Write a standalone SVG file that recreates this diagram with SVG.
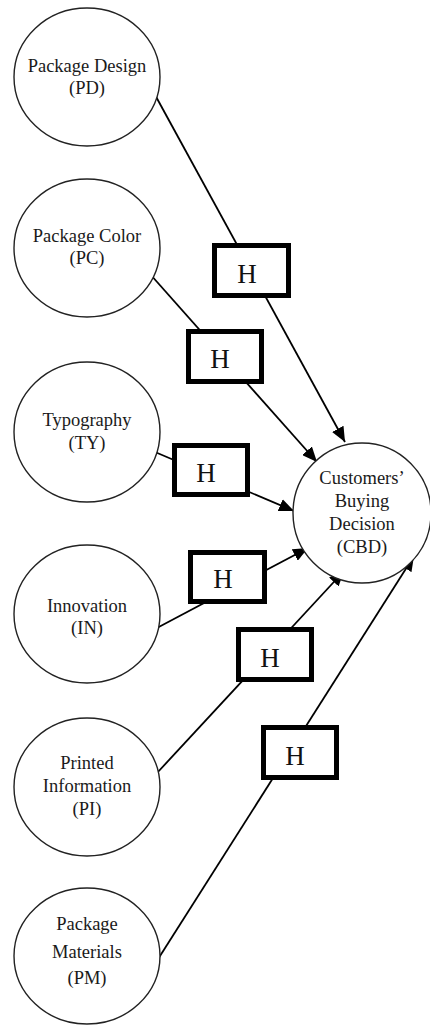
<svg xmlns="http://www.w3.org/2000/svg" width="430" height="1025" viewBox="0 0 430 1025">
<style>
.node ellipse{fill:#fff;stroke:#222;stroke-width:1.4}
.lbl{font-family:"Liberation Serif","Times New Roman",serif;font-size:18.5px;fill:#1a1a1a;text-anchor:middle}
.conn line{stroke:#000;stroke-width:1.8;fill:none}
.hbox rect{fill:#fff;stroke:#000;stroke-width:5}
.h{font-family:"Liberation Serif","Times New Roman",serif;font-size:27px;fill:#111;text-anchor:middle}
</style>
<defs>
<marker id="arr" markerUnits="userSpaceOnUse" markerWidth="16" markerHeight="13" refX="15" refY="6.5" orient="auto">
<path d="M0,0 L15,6.5 L0,13 z" fill="#000"/>
</marker>
</defs>
<g id="connectors" class="conn">
<line x1="154" y1="93" x2="345" y2="442" marker-end="url(#arr)"/>
<line x1="150" y1="274" x2="317" y2="462" marker-end="url(#arr)"/>
<line x1="155" y1="452" x2="294" y2="511" marker-end="url(#arr)"/>
<line x1="155" y1="629" x2="308" y2="548" marker-end="url(#arr)"/>
<line x1="157" y1="773" x2="344" y2="571" marker-end="url(#arr)"/>
<line x1="153" y1="967" x2="414" y2="556" marker-end="url(#arr)"/>
</g>
<g id="h1" class="hbox"><rect x="214.5" y="245.5" width="74" height="50"/><text class="h" x="247" y="283">H</text></g>
<g id="h2" class="hbox"><rect x="188.5" y="331.5" width="73" height="50"/><text class="h" x="220" y="368">H</text></g>
<g id="h3" class="hbox"><rect x="174.5" y="445.5" width="73" height="49"/><text class="h" x="206" y="482">H</text></g>
<g id="h4" class="hbox"><rect x="190.5" y="552.5" width="74" height="49"/><text class="h" x="223" y="588">H</text></g>
<g id="h5" class="hbox"><rect x="238.5" y="629.5" width="73" height="50"/><text class="h" x="270" y="667">H</text></g>
<g id="h6" class="hbox"><rect x="263.5" y="727.5" width="73" height="50"/><text class="h" x="295" y="765">H</text></g>
<g id="pd" class="node"><ellipse cx="87" cy="77" rx="73" ry="69"/><text class="lbl" x="87" y="72">Package Design</text><text class="lbl" x="87" y="94">(PD)</text></g>
<g id="pc" class="node"><ellipse cx="87" cy="248" rx="73" ry="69"/><text class="lbl" x="87" y="242">Package Color</text><text class="lbl" x="87" y="264">(PC)</text></g>
<g id="ty" class="node"><ellipse cx="87" cy="432" rx="73" ry="70"/><text class="lbl" x="87" y="426">Typography</text><text class="lbl" x="87" y="449">(TY)</text></g>
<g id="in" class="node"><ellipse cx="87" cy="614" rx="73" ry="69"/><text class="lbl" x="87" y="612">Innovation</text><text class="lbl" x="87" y="634">(IN)</text></g>
<g id="pi" class="node"><ellipse cx="87" cy="787" rx="73" ry="69"/><text class="lbl" x="87" y="769">Printed</text><text class="lbl" x="87" y="792">Information</text><text class="lbl" x="87" y="815">(PI)</text></g>
<g id="pm" class="node"><ellipse cx="87" cy="956" rx="73" ry="68"/><text class="lbl" x="87" y="930">Package</text><text class="lbl" x="87" y="958">Materials</text><text class="lbl" x="87" y="984">(PM)</text></g>
<g id="cbd" class="node"><ellipse cx="362" cy="513" rx="69" ry="70"/><text class="lbl" x="362" y="484">Customers’</text><text class="lbl" x="362" y="507">Buying</text><text class="lbl" x="362" y="530">Decision</text><text class="lbl" x="362" y="553">(CBD)</text></g>
</svg>
